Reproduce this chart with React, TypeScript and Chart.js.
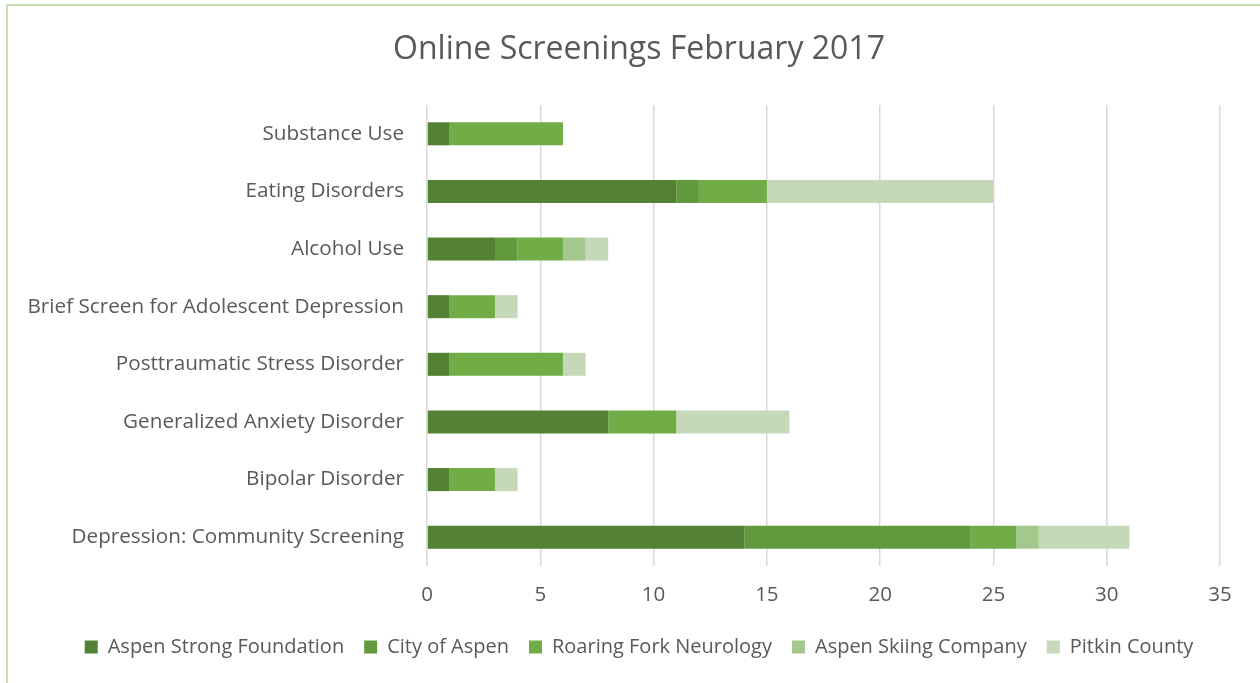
import { useEffect, useRef } from "react";
import { Chart, registerables } from "chart.js";

Chart.register(...registerables);

const categories = [
  "Substance Use",
  "Eating Disorders",
  "Alcohol Use",
  "Brief Screen for Adolescent Depression",
  "Posttraumatic Stress Disorder",
  "Generalized Anxiety Disorder",
  "Bipolar Disorder",
  "Depression: Community Screening",
];

const seriesNames = [
  "Aspen Strong Foundation",
  "City of Aspen",
  "Roaring Fork Neurology",
  "Aspen Skiing Company",
  "Pitkin County",
];

const aspenStrong = [1, 11, 3, 1, 1, 8, 1, 14];
const cityOfAspen = [0, 1, 1, 0, 0, 0, 0, 10];
const roaringFork = [5, 3, 2, 2, 5, 3, 2, 2];
const aspenSkiing = [0, 0, 1, 0, 0, 0, 0, 1];
const pitkinCounty = [0, 10, 1, 1, 1, 5, 1, 4];

const seriesColors = ["#548235", "#62993E", "#70AD47", "#A3C78C", "#C5D9BA"];

const xTickMax = 35;
const xTickStep = 5;

const FONT = "'Open Sans', 'Noto Sans', sans-serif";
const TEXT = "#595959";

// let the category labels use the full left margin (avoid clipping long labels)
const widenLabelArea = {
  id: "widenLabelArea",
  afterLayout(chart: any) {
    const y = chart.scales.y;
    if (y) y.left = 0;
  },
};

export default function App() {
  const ref = useRef<HTMLCanvasElement | null>(null);

  useEffect(() => {
    if (!ref.current) return;
    const values = [aspenStrong, cityOfAspen, roaringFork, aspenSkiing, pitkinCounty];
    const chart = new Chart(ref.current, {
      type: "bar",
      data: {
        labels: categories,
        datasets: seriesNames.map((name, i) => ({
          label: name,
          data: values[i],
          backgroundColor: seriesColors[i],
          borderWidth: 0,
          barPercentage: 0.4,
          categoryPercentage: 1,
        })),
      },
      plugins: [widenLabelArea],
      options: {
        indexAxis: "y",
        animation: false,
        responsive: false,
        maintainAspectRatio: false,
        layout: { padding: { left: 58, right: 40, top: 0, bottom: 16 } },
        scales: {
          x: {
            stacked: true,
            min: 0,
            max: xTickMax,
            ticks: {
              stepSize: xTickStep,
              padding: 17,
              color: TEXT,
              font: { family: FONT, size: 20.5 },
            },
            grid: { color: "#D9D9D9", lineWidth: 1.5, drawTicks: false },
            border: { display: false },
            afterFit: (scale: any) => {
              scale.height = 51;
            },
          },
          y: {
            stacked: true,
            ticks: {
              padding: 23,
              color: TEXT,
              font: { family: FONT, size: 20.7 },
            },
            grid: { display: false, drawTicks: false },
            border: { display: false },
            afterFit: (scale: any) => {
              scale.width = 369;
            },
          },
        },
        plugins: {
          title: {
            display: true,
            text: "Online Screenings February 2017",
            color: TEXT,
            font: { family: FONT, size: 32, weight: "normal" },
            padding: { top: 31, bottom: 35.6 },
          },
          legend: {
            position: "bottom",
            labels: {
              boxWidth: 13,
              boxHeight: 13,
              padding: 20,
              color: TEXT,
              font: { family: FONT, size: 20 },
            },
          },
          tooltip: { enabled: false },
        },
      },
    });
    return () => chart.destroy();
  }, []);

  return (
    <div
      style={{
        position: "absolute",
        left: 0,
        top: 0,
        width: 1260,
        height: 683,
        overflow: "hidden",
        background: "#fff",
      }}
    >
      <div
        style={{
          position: "absolute",
          left: 6,
          top: 4,
          width: 1320,
          height: 740,
          border: "2px solid #C5E0B4",
          boxSizing: "border-box",
        }}
      />
      <canvas
        ref={ref}
        width={1260}
        height={683}
        style={{ position: "absolute", left: 0, top: 0, width: 1260, height: 683 }}
      />
    </div>
  );
}
